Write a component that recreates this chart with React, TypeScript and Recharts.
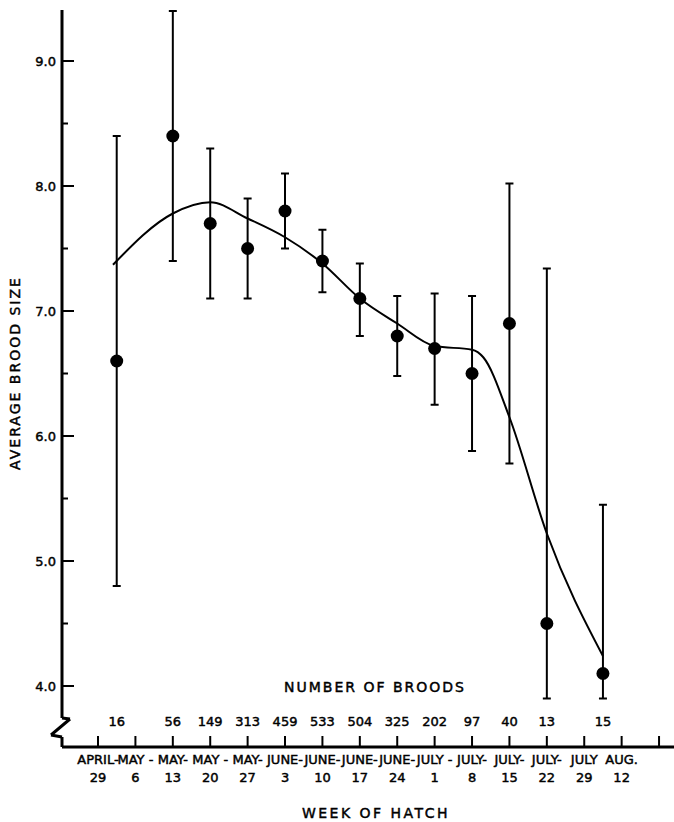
import React from "react";
import {
  ComposedChart,
  Scatter,
  Line,
  ErrorBar,
  XAxis,
  YAxis,
  ReferenceLine,
  ReferenceDot,
} from "recharts";

document.body.style.margin = "0";

// week index of each sample (0 = April 29 tick)
const weeks = [0.5, 2, 3, 4, 5, 6, 7, 8, 9, 10, 11, 12, 13.5];
const means = [6.6, 8.4, 7.7, 7.5, 7.8, 7.4, 7.1, 6.8, 6.7, 6.5, 6.9, 4.5, 4.1];
const lows = [4.8, 7.4, 7.1, 7.1, 7.5, 7.15, 6.8, 6.48, 6.25, 5.88, 5.78, 3.9, 3.9];
const highs = [8.4, 9.4, 8.3, 7.9, 8.1, 7.65, 7.38, 7.12, 7.14, 7.12, 8.02, 7.34, 5.45];
const broods = [16, 56, 149, 313, 459, 533, 504, 325, 202, 97, 40, 13, 15];

// fitted trend
const trendWeeks = [0.4, 2, 3, 4, 5, 6, 7, 8, 9, 10, 10.3, 11, 12, 13.5];
const trendValues = [7.37, 7.78, 7.87, 7.74, 7.59, 7.38, 7.1, 6.9, 6.72, 6.69, 6.63, 6.15, 5.22, 4.24];

const monthLabels = ["APRIL-", "MAY -", "MAY-", "MAY -", "MAY-", "JUNE-", "JUNE-", "JUNE-", "JUNE-", "JULY -", "JULY-", "JULY-", "JULY-", "JULY", "AUG.", ""];
const dayLabels = ["29", "6", "13", "20", "27", "3", "10", "17", "24", "1", "8", "15", "22", "29", "12", ""];
const weekTicks = monthLabels.map((_, i) => i);
const sizeTicks = [4, 4.5, 5, 5.5, 6, 6.5, 7, 7.5, 8, 8.5, 9];

const points = weeks.map((x, i) => ({
  x,
  y: means[i],
  err: [means[i] - lows[i], highs[i] - means[i]],
}));
const trend = trendWeeks.map((x, i) => ({ x, y: trendValues[i] }));

const X_MIN = -0.963;
const Y_MIN = 3.512;
const Y_MAX = 9.408;
const FONT = "'DejaVu Sans', sans-serif";
const INK = { fill: "#000", stroke: "#000", strokeWidth: 0.45 };

// y-axis with the broken-scale zigzag near the bottom
const axisPath: [number, number][] = [
  [X_MIN, Y_MAX],
  [X_MIN, 3.744],
  [-0.749, 3.736],
  [-1.257, 3.608],
  [X_MIN, 3.592],
  [X_MIN, Y_MIN],
];

const YTick = (props: any) => {
  const { x, y, payload } = props;
  const major = Number.isInteger(payload.value);
  return (
    <g>
      <line x1={x} y1={y} x2={x + (major ? 12 : 6)} y2={y} stroke="#000" strokeWidth={2} />
      {major && (
        <text x={x - 6} y={y + 5} textAnchor="end" fontSize={13} fontFamily={FONT} {...INK}>
          {payload.value.toFixed(1)}
        </text>
      )}
    </g>
  );
};

const XTick = (props: any) => {
  const { x, y, payload } = props;
  const i = payload.value;
  return (
    <g>
      <line x1={x} y1={y} x2={x} y2={y - 11} stroke="#000" strokeWidth={2} />
      <text x={x} y={y + 17} textAnchor="middle" fontSize={13} fontFamily={FONT} {...INK}>
        {monthLabels[i]}
      </text>
      <text x={x} y={y + 35} textAnchor="middle" fontSize={13} fontFamily={FONT} {...INK}>
        {dayLabels[i]}
      </text>
    </g>
  );
};

const Dot = (props: any) => <circle cx={props.cx} cy={props.cy} r={6.5} fill="#000" />;

const titleStyle: React.CSSProperties = {
  position: "absolute",
  whiteSpace: "nowrap",
  fontSize: 14,
  letterSpacing: 2,
  WebkitTextStroke: "0.45px #000",
};

export default function App() {
  return (
    <div style={{ position: "relative", width: 674, height: 822, background: "#fff", fontFamily: FONT, color: "#000" }}>
      <ComposedChart width={674} height={822} margin={{ top: 10, right: 0, bottom: 0, left: 0 }}>
        <XAxis
          type="number"
          dataKey="x"
          domain={[X_MIN, 15.4]}
          ticks={weekTicks}
          allowDataOverflow
          height={75}
          tickSize={0}
          tickMargin={0}
          tickLine={false}
          axisLine={{ stroke: "#000", strokeWidth: 3 }}
          tick={XTick}
          interval={0}
        />
        <YAxis
          type="number"
          dataKey="y"
          domain={[Y_MIN, Y_MAX]}
          ticks={sizeTicks}
          allowDataOverflow
          width={62}
          tickSize={0}
          tickMargin={0}
          tickLine={false}
          axisLine={false}
          tick={YTick}
          interval={0}
        />
        {axisPath.slice(1).map((p, i) => (
          <ReferenceLine
            key={`ax${i}`}
            segment={[
              { x: axisPath[i][0], y: axisPath[i][1] },
              { x: p[0], y: p[1] },
            ]}
            stroke="#000"
            strokeWidth={3}
            ifOverflow="visible"
          />
        ))}
        <Line
          data={trend}
          dataKey="y"
          type="monotone"
          stroke="#000"
          strokeWidth={2}
          dot={false}
          activeDot={false}
          isAnimationActive={false}
        />
        <Scatter data={points} dataKey="y" shape={Dot} isAnimationActive={false}>
          <ErrorBar dataKey="err" direction="y" width={4} stroke="#000" strokeWidth={2} isAnimationActive={false} />
        </Scatter>
        {weeks.map((w, i) => (
          <ReferenceDot
            key={`n${i}`}
            x={w}
            y={3.72}
            r={0}
            stroke="none"
            fill="none"
            ifOverflow="visible"
            label={{ value: broods[i], position: "center", fontSize: 13, fontFamily: FONT, ...INK }}
          />
        ))}
      </ComposedChart>
      <div style={{ ...titleStyle, left: 15, top: 373, transform: "translate(-50%, -50%) rotate(-90deg)" }}>
        AVERAGE BROOD SIZE
      </div>
      <div style={{ ...titleStyle, left: 375, top: 687, transform: "translate(-50%, -50%)" }}>
        NUMBER OF BROODS
      </div>
      <div style={{ ...titleStyle, left: 376, top: 813, letterSpacing: 2.5, transform: "translate(-50%, -50%)" }}>
        WEEK OF HATCH
      </div>
    </div>
  );
}
